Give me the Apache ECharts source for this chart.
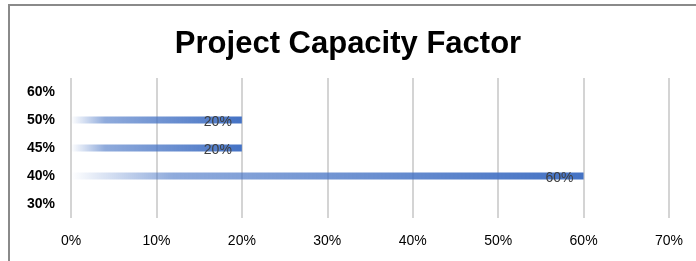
<!DOCTYPE html>
<html>
<head>
<meta charset="utf-8">
<script src="https://cdn.jsdelivr.net/npm/echarts@6/dist/echarts.min.js"></script>
<style>
	html, body { margin: 0; padding: 0; background: #fff; }
	#chart { width: 696px; height: 261px; }
</style>
</head>
<body>
<div id="chart"></div>
<script>
// 类别（自下而上）
let categories = ['30%', '40%', '45%', '50%', '60%'];
// 条形数值（百分比）
let values = [null, 60, 20, 20, null];
let x_ticks = [0, 10, 20, 30, 40, 50, 60, 70];

let chart = echarts.init(document.getElementById('chart'));
let option = {
	animation: false,
	title: {
		text: 'Project Capacity Factor',
		left: 'center',
		top: 24,
		textStyle: {
			fontFamily: 'Liberation Sans',
			fontSize: 31,
			fontWeight: 'bold',
			color: '#000',
		},
	},
	graphic: [
		{
			type: 'polyline',
			shape: { points: [[9, 261], [9, 5], [696, 5]] },
			style: { stroke: '#8a8a8a', lineWidth: 2, fill: null },
		},
	],
	grid: {
		left: 71,
		right: 27,
		top: 78,
		bottom: 43,
	},
	xAxis: {
		type: 'value',
		min: x_ticks[0],
		max: x_ticks[x_ticks.length - 1],
		interval: 10,
		axisLine: { show: false },
		axisTick: { show: false },
		axisLabel: {
			formatter: '{value}%',
			margin: 16,
			fontFamily: 'Liberation Sans',
			fontSize: 14,
			color: '#000',
		},
		splitLine: { lineStyle: { color: '#d4d4d4', width: 2 } },
	},
	yAxis: {
		type: 'category',
		data: categories,
		axisLine: { show: false },
		axisTick: { show: false },
		axisLabel: {
			margin: 16,
			fontFamily: 'Liberation Sans',
			fontSize: 14,
			fontWeight: 'bold',
			color: '#000',
		},
	},
	series: [
		{
			type: 'bar',
			data: values,
			barWidth: 7,
			itemStyle: {
				color: {
					type: 'linear',
					x: 0, y: 0, x2: 1, y2: 0,
					colorStops: [
						{ offset: 0, color: 'rgba(68,114,196,0)' },
						{ offset: 0.2, color: 'rgba(68,114,196,0.6)' },
						{ offset: 1, color: 'rgba(68,114,196,1)' },
					],
				},
			},
			label: {
				show: true,
				position: 'insideRight',
				distance: 10,
				offset: [0, 2],
				formatter: '{c}%',
				fontFamily: 'Liberation Sans',
				fontSize: 14,
				color: '#404040',
			},
		},
	],
};
chart.setOption(option);
</script>
</body>
</html>
